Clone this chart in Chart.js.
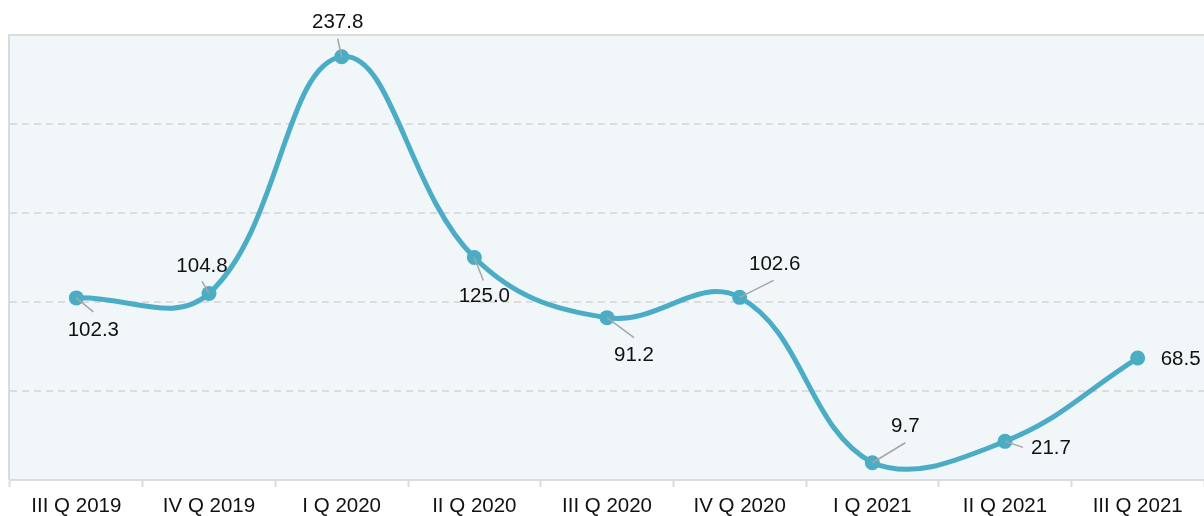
<!DOCTYPE html>
<html>
<head>
<meta charset="utf-8">
<script src="https://cdn.jsdelivr.net/npm/chart.js@4.4.0/dist/chart.umd.min.js"></script>
<style>
  html, body { margin: 0; padding: 0; background: #ffffff; }
  #wrap { width: 1204px; height: 516px; }
</style>
</head>
<body>
<div id="wrap"><canvas id="quarterChart"></canvas></div>
<script>
// Chart data
const quarters = ['III Q 2019', 'IV Q 2019', 'I Q 2020', 'II Q 2020', 'III Q 2020',
                  'IV Q 2020', 'I Q 2021', 'II Q 2021', 'III Q 2021'];
const values = [102.3, 104.8, 237.8, 125.0, 91.2, 102.6, 9.7, 21.7, 68.5];
const yTicks = [0, 50, 100, 150, 200, 250];

// Label placement (offset of label centre and leader end from each point)
const labelDx = [17, -7, -4, 10, 27, 35, 33, 46, 43];
const labelDy = [32, -27, -34, 39, 38, -33, -36, 7, 1];
const leadDx = [17, -7, -4, 9, 27, 34, 33, 18, 0];
const leadDy = [14, -12, -18, 23, 20, -17, -20, 6, 0];

const lineColor = '#4bacc6';
const gridColor = '#dcdcdc';
const fontFamily = '"Liberation Sans", Arial, sans-serif';

// Plot background and solid frame lines
const plotBackground = {
    id: 'plotBackground',
    beforeDraw(chart) {
        const { ctx, chartArea: a } = chart;
        ctx.save();
        ctx.fillStyle = '#f1f6f9';
        ctx.fillRect(a.left, a.top, a.right - a.left, a.bottom - a.top);
        ctx.strokeStyle = gridColor;
        ctx.lineWidth = 2;
        ctx.beginPath();
        ctx.moveTo(a.left - 1, a.bottom);
        ctx.lineTo(a.left - 1, a.top);
        ctx.lineTo(a.right, a.top);
        ctx.stroke();
        ctx.restore();
    }
};

// Value labels with leader lines
const valueLabels = {
    id: 'valueLabels',
    afterDatasetsDraw(chart) {
        const { ctx } = chart;
        const meta = chart.getDatasetMeta(0);
        ctx.save();
        meta.data.forEach((pt, i) => {
            if (leadDx[i] || leadDy[i]) {
                ctx.strokeStyle = '#a6a6a6';
                ctx.lineWidth = 1.5;
                ctx.beginPath();
                ctx.moveTo(pt.x, pt.y);
                ctx.lineTo(pt.x + leadDx[i], pt.y + leadDy[i]);
                ctx.stroke();
            }
            ctx.fillStyle = '#111111';
            ctx.font = '20.5px ' + fontFamily;
            ctx.textAlign = 'center';
            ctx.textBaseline = 'middle';
            ctx.fillText(values[i].toFixed(1), pt.x + labelDx[i], pt.y + labelDy[i]);
        });
        ctx.restore();
    }
};

new Chart(document.getElementById('quarterChart'), {
    type: 'line',
    data: {
        labels: quarters,
        datasets: [{
            data: values,
            borderColor: lineColor,
            backgroundColor: lineColor,
            borderWidth: 5,
            tension: 0.4,
            pointRadius: 7.5,
            pointHoverRadius: 7.5,
            pointBackgroundColor: lineColor,
            pointBorderWidth: 0,
            fill: false,
            clip: false
        }]
    },
    options: {
        responsive: true,
        maintainAspectRatio: false,
        animation: false,
        layout: { autoPadding: false, padding: { top: 35, left: 0, right: 0, bottom: 0 } },
        plugins: {
            legend: { display: false },
            tooltip: { enabled: false }
        },
        scales: {
            x: {
                offset: true,
                grid: {
                    offset: true,
                    drawOnChartArea: false,
                    drawTicks: true,
                    tickLength: 7,
                    tickColor: gridColor,
                    tickWidth: 2
                },
                border: { display: true, color: gridColor, width: 2 },
                ticks: {
                    color: '#111111',
                    font: { family: fontFamily, size: 20.5 },
                    padding: 7,
                    maxRotation: 0,
                    autoSkip: false
                },
                afterFit(scale) {
                    scale.height = 36;
                    scale.paddingLeft = 0;
                    scale.paddingRight = 0;
                }
            },
            y: {
                min: yTicks[0],
                max: yTicks[yTicks.length - 1],
                afterBuildTicks(scale) { scale.ticks = yTicks.map(v => ({ value: v })); },
                ticks: { display: false },
                grid: {
                    drawTicks: false,
                    lineWidth: 2,
                    color: ctx => (ctx.tick && (ctx.tick.value === 0 || ctx.tick.value === 250)) ? 'rgba(0,0,0,0)' : gridColor
                },
                border: { display: false, dash: [7, 5] },
                afterFit(scale) { scale.width = 10; }
            }
        }
    },
    plugins: [plotBackground, valueLabels]
});
</script>
</body>
</html>
